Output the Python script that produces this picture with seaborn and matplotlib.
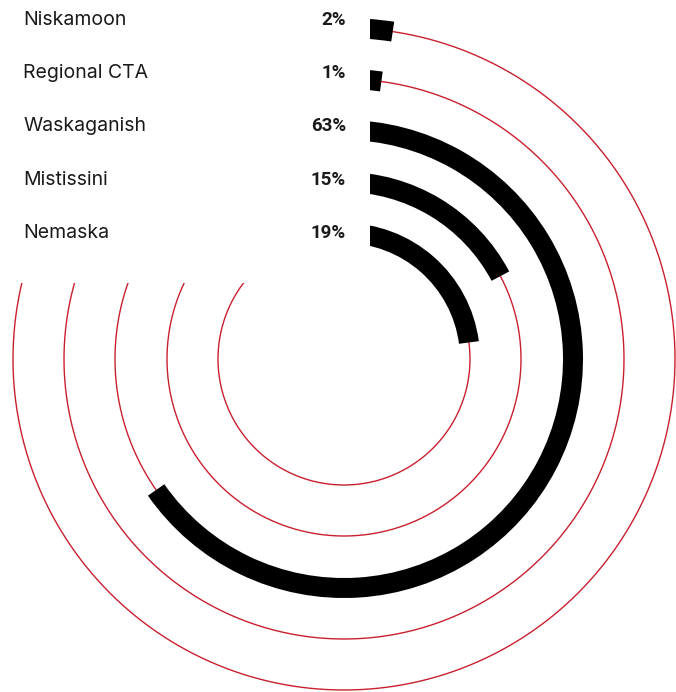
import numpy as np
import pandas as pd
import matplotlib
matplotlib.use("Agg")
import matplotlib.pyplot as plt
from matplotlib.patches import Wedge, Rectangle
import seaborn as sns

# data (outer ring first)
regions = ['Niskamoon', 'Regional CTA', 'Waskaganish', 'Mistissini', 'Nemaska']
pct_labels = ['2%', '1%', '63%', '15%', '19%']
# visible arc length of each bar, in % of a full turn
shares = [1.1, 0.65, 63.5, 14.9, 19.6]

W, H = 676, 692
cx, cy = 344, H - 359
radii = [331, 280, 229, 177, 126]
bar_w = 20
mask_x, mask_y = 370, 283
red = '#c8202f'
ink = '#1a1a1a'

sns.set_theme(style='white')
plt.rcParams['font.family'] = ['Inter', 'DejaVu Sans']

fig = plt.figure(figsize=(W / 100, H / 100), dpi=100)
ax = fig.add_axes([0, 0, 1, 1])
ax.set_xlim(0, W)
ax.set_ylim(0, H)
ax.set_aspect('equal')
ax.axis('off')

theta = np.radians(np.linspace(0, 360, 1441))
for r in radii:
    ring = pd.DataFrame({'x': cx + r * np.sin(theta), 'y': cy + r * np.cos(theta)})
    sns.lineplot(data=ring, x='x', y='y', sort=False, estimator=None, errorbar=None,
                 color=red, linewidth=1.0, ax=ax, zorder=1)

for r, share in zip(radii, shares):
    start = np.degrees(np.arcsin((mask_x - cx) / r))
    end = start + share * 3.6
    ax.add_patch(Wedge((cx, cy), r + bar_w / 2, 90 - end, 90, width=bar_w,
                       facecolor='black', edgecolor='none', zorder=2))

# white label panel hides the upper-left part of the rings
ax.add_patch(Rectangle((0, H - mask_y), mask_x, mask_y + 5, facecolor='white',
                       edgecolor='none', zorder=3))

for i, (name, lab) in enumerate(zip(regions, pct_labels)):
    y = H - (19.7 + 53.3 * i)
    ax.text(23, y, name, ha='left', va='center', fontsize=14, color=ink, zorder=4)
    ax.text(346, y, lab, ha='right', va='center', fontsize=13.5, fontweight='bold',
            family=['Roboto', 'DejaVu Sans'], color=ink, zorder=4)

fig.savefig('out.png', dpi=100, facecolor='white')
